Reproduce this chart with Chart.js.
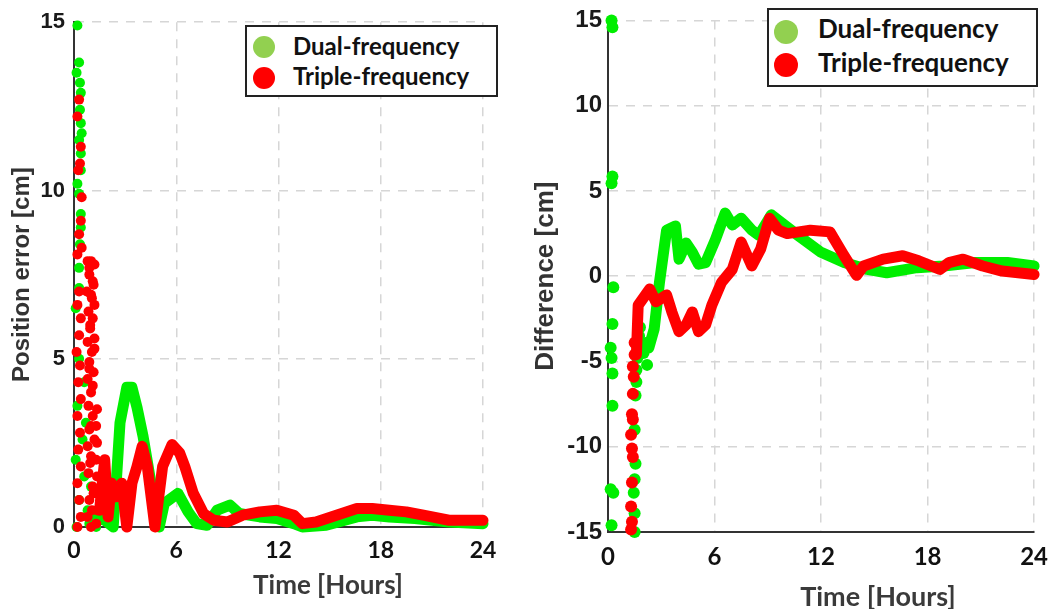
<!DOCTYPE html>
<html>
<head>
<meta charset="utf-8">
<script src="https://cdn.jsdelivr.net/npm/chart.js@4/dist/chart.umd.min.js"></script>
<style>
  body { margin: 0; background: #fff; width: 1059px; height: 609px; overflow: hidden; position: relative; font-family: Lato, sans-serif; }
  canvas { position: absolute; top: 0; }
  #errChart { left: 0; }
  #diffChart { left: 510px; }
  .xtitle { position: absolute; font-weight: bold; color: #3a3a3a; transform: translate(-50%, -50%); white-space: nowrap; }
  .legend { position: absolute; border: 2px solid #222; background: #fff; box-sizing: border-box; }
  .row { position: absolute; white-space: nowrap; font-weight: bold; color: #111; line-height: 1; }
  .dot { position: absolute; border-radius: 50%; }
</style>
</head>
<body>
<canvas id="errChart" width="510" height="609"></canvas>
<canvas id="diffChart" width="549" height="609"></canvas>

<div class="xtitle" style="left:328px;top:584px;font-size:26px">Time [Hours]</div>
<div class="xtitle" style="left:878px;top:595px;font-size:27px">Time [Hours]</div>

<div class="legend" style="left:245px;top:25px;width:253px;height:72px"></div>
<div class="dot" style="left:253px;top:36px;width:22px;height:22px;background:#92d050"></div>
<div class="dot" style="left:253px;top:67px;width:22px;height:22px;background:#ff0000"></div>
<div class="row" style="left:293px;top:34px;font-size:24px">Dual-frequency</div>
<div class="row" style="left:293px;top:64px;font-size:24px">Triple-frequency</div>

<div class="legend" style="left:767px;top:8px;width:271px;height:79px"></div>
<div class="dot" style="left:774px;top:20px;width:24px;height:24px;background:#92d050"></div>
<div class="dot" style="left:774px;top:53px;width:24px;height:24px;background:#ff0000"></div>
<div class="row" style="left:818px;top:15px;font-size:26px">Dual-frequency</div>
<div class="row" style="left:818px;top:49px;font-size:26px">Triple-frequency</div>

<script>
// ---- Left panel: position error [cm] vs time [h] ----
const errDualDotsT = [0.2, 0.3, 0.15, 0.35, 0.4, 0.35, 0.4, 0.45, 0.3, 0.4, 0.4, 0.2, 0.3, 0.4, 0.4, 0.35, 0.3, 0.3,
  0.1, 0.3, 0.6, 0.2, 0.7, 0.5, 0.1, 0.6, 0.3, 0.8, 0.15, 0.9, 1.3, 1.0];
const errDualDotsV = [14.9, 13.8, 13.5, 13.2, 12.9, 12.4, 12.0, 11.7, 11.5, 11.1, 10.6, 10.2, 9.9, 9.3, 8.9, 8.4, 7.7, 7.1,
  6.5, 5.0, 4.3, 3.6, 3.1, 2.6, 2.0, 1.5, 0.8, 0.5, 0.0, 0.1, 0.0, 1.2];
const errDualT = [1.3, 1.8, 2.3, 2.5, 2.7, 3.1, 3.4, 3.7, 4.05, 4.45, 4.9, 5.0, 5.3, 5.7, 6.1, 6.7, 7.2, 7.8, 8.4, 9.15,
  9.7, 10.9, 11.9, 12.9, 13.4, 14.8, 16.6, 17.5, 18.5, 20, 22, 24];
const errDualV = [0.3, 0.2, 0.0, 1.5, 3.1, 4.15, 4.15, 3.55, 2.7, 1.5, 0.2, 0.0, 0.7, 0.85, 1.0, 0.45, 0.1, 0.05, 0.5, 0.65,
  0.4, 0.3, 0.25, 0.1, 0.0, 0.05, 0.3, 0.35, 0.3, 0.25, 0.15, 0.1];

const errTripleDotsT = [0.3, 0.2, 0.4, 0.35, 0.25, 0.45, 0.4, 0.3, 0.45, 0.2,
  0.3, 0.2, 0.4, 0.3, 0.15, 0.35, 0.25, 0.4, 0.2, 0.35, 0.25, 0.4, 0.2, 0.3, 0.4, 0.2,
  0.8, 1.0, 1.2, 0.9, 1.1, 0.75, 1.0, 1.2, 0.85, 1.1, 0.95, 1.2, 0.8, 1.05, 0.9, 1.15, 0.8, 1.0, 0.85, 1.1, 0.9, 0.8, 1.0, 0.85, 1.1, 0.9, 0.8, 1.0,
  0.9, 1.15, 1.05, 0.95, 1.2, 0.9, 1.1, 1.0, 1.2, 0.95, 1.15, 1.05,
  1.35, 1.3, 1.35, 1.3, 1.35, 1.3, 1.35, 1.3];
const errTripleDotsV = [12.7, 12.2, 11.3, 10.8, 10.6, 9.8, 9.1, 8.7, 8.3, 8.1,
  7.0, 6.6, 6.2, 5.7, 5.2, 4.8, 4.3, 3.8, 3.3, 2.8, 2.3, 1.8, 1.3, 0.8, 0.3, 0.0,
  7.9, 7.9, 7.8, 7.5, 7.3, 7.0, 6.9, 6.6, 6.4, 6.2, 5.9, 5.6, 5.5, 5.2, 4.9, 4.6, 4.4, 4.0, 3.6, 3.3, 2.9, 2.4, 2.1, 1.6, 1.2, 0.8, 0.3, 0.0,
  7.7, 7.2, 6.8, 6.0, 5.3, 4.7, 4.2, 3.0, 2.6, 1.9, 1.0, 0.5,
  3.5, 3.0, 2.5, 2.0, 1.5, 1.0, 0.5, 0.1];
const errTripleT = [1.5, 1.8, 2.0, 2.2, 2.5, 2.8, 3.1, 3.4, 3.7, 4.0, 4.3, 4.75, 5.2, 5.75, 6.2, 6.5, 7.0, 7.6, 8.2, 9.0,
  9.9, 10.9, 11.9, 12.9, 13.4, 14.2, 15.4, 16.6, 17.5, 18.5, 19.5, 20.5, 22, 24];
const errTripleV = [0.5, 2.0, 0.3, 1.3, 0.9, 1.3, 0.0, 1.3, 1.8, 2.4, 1.8, 0.0, 1.8, 2.45, 2.2, 1.8, 1.0, 0.4, 0.2, 0.15,
  0.35, 0.45, 0.5, 0.35, 0.1, 0.15, 0.35, 0.55, 0.55, 0.5, 0.45, 0.35, 0.2, 0.2];

// ---- Right panel: difference [cm] vs time [h] ----
const diffDualDotsT = [0.2, 0.25, 0.25, 0.2, 0.3, 0.25, 0.15, 0.2, 0.25, 0.25, 0.15, 0.3, 0.2,
  1.5, 1.5, 1.45, 1.5, 1.55, 1.5, 1.55, 1.6, 1.6, 1.65, 1.7, 1.75, 1.8, 2.0, 2.2, 2.2];
const diffDualDotsV = [15.0, 14.6, 5.85, 5.45, -0.65, -2.8, -4.2, -4.8, -5.7, -7.6, -12.5, -12.7, -14.6,
  -15.0, -13.9, -12.7, -11.9, -11.0, -9.0, -7.0, -6.2, -5.5, -4.8, -4.2, -3.5, -3.0, -4.5, -5.2, -3.9];
const diffDualT = [2.3, 2.6, 2.9, 3.3, 3.8, 4.0, 4.4, 4.75, 5.1, 5.5, 6.05, 6.6, 7.0, 7.5, 8.1, 8.5, 9.2, 9.95, 10.7, 12,
  13.3, 14.6, 15.7, 17.4, 18.9, 20.7, 22.5, 24];
const diffDualV = [-4.2, -3.1, -0.35, 2.7, 2.95, 1.0, 1.95, 1.4, 0.7, 0.8, 2.15, 3.7, 3.0, 3.4, 2.7, 2.4, 3.6, 3.0, 2.4, 1.4,
  0.8, 0.4, 0.2, 0.5, 0.6, 0.8, 0.8, 0.6];

const diffTripleDotsT = [1.3, 1.35, 1.3, 1.35, 1.4, 1.35, 1.3, 1.4, 1.35, 1.4, 1.45, 1.4, 1.5, 1.5];
const diffTripleDotsV = [-14.85, -14.4, -13.5, -12.1, -10.6, -10.1, -9.3, -8.4, -8.1, -6.9, -5.9, -5.3, -4.6, -3.9];
const diffTripleT = [1.6, 1.7, 2.35, 2.7, 3.3, 3.6, 4.0, 4.4, 4.75, 5.1, 5.5, 5.85, 6.4, 7.0, 7.5, 8.1, 8.6, 9.1, 9.6, 10.1,
  11.4, 12.5, 13.3, 14.0, 14.4, 15.5, 16.6, 17.5, 18.7, 19.2, 20.0, 21.1, 22.2, 24];
const diffTripleV = [-4.6, -1.7, -0.75, -1.5, -1.1, -2.1, -3.25, -2.85, -2.1, -3.25, -2.85, -1.7, -0.35, 0.4, 2.0, 0.6, 1.6, 3.4, 2.7, 2.5,
  2.7, 2.6, 1.2, 0.05, 0.6, 1.0, 1.2, 0.9, 0.4, 0.8, 1.0, 0.6, 0.3, 0.1];

const timeTicks = [0, 6, 12, 18, 24];

const GREEN = '#00ee00';
const RED = '#ff0000';

const pts = (ts, vs) => ts.map((t, i) => ({ x: t, y: vs[i] }));

function lineSet(data, color, order) {
  return {
    data, order, showLine: true, borderColor: color, backgroundColor: color,
    borderWidth: 11, borderJoinStyle: 'round', borderCapStyle: 'round',
    pointRadius: 0, tension: 0, clip: false,
  };
}

function dotSet(data, color, order, r) {
  return { data, order, showLine: false, backgroundColor: color, borderWidth: 0, pointRadius: r, clip: false };
}

function makeChart(id, cfg) {
  const gridColor = '#d6d6d6';
  return new Chart(document.getElementById(id), {
    type: 'scatter',
    data: { datasets: cfg.datasets },
    options: {
      responsive: false,
      animation: false,
      layout: { padding: cfg.padding },
      plugins: { legend: { display: false }, tooltip: { enabled: false } },
      scales: {
        x: {
          min: 0, max: 24,
          afterBuildTicks: (s) => { s.ticks = timeTicks.map(v => ({ value: v })); },
          afterFit: (s) => { s.height = cfg.xHeight; },
          ticks: { color: '#111', padding: cfg.xTickPad, font: { family: 'Lato', size: cfg.xTickSize, weight: 'bold' } },
          grid: { color: gridColor, lineWidth: 1.5, drawTicks: false },
          border: { display: true, color: '#333', width: 2, dash: [9, 8] },
        },
        y: {
          min: cfg.yMin, max: 15,
          afterBuildTicks: (s) => { s.ticks = cfg.yTicks.map(v => ({ value: v })); },
          afterFit: (s) => { s.width = cfg.yWidth; },
          ticks: { color: '#1a1a1a', padding: cfg.yTickPad, font: { family: 'Liberation Sans', size: cfg.yTickSize, weight: 'bold' } },
          grid: { color: gridColor, lineWidth: 1.5, drawTicks: false },
          border: { display: true, color: '#333', width: 2, dash: [9, 8] },
          title: {
            display: true, text: cfg.yTitle, color: '#333',
            font: { family: 'Liberation Sans', size: cfg.yTitleSize, weight: 'bold' },
            padding: { top: cfg.yTitlePad, bottom: 0 },
          },
        },
      },
    },
  });
}

makeChart('errChart', {
  padding: { top: 22, right: 27, left: 0, bottom: 0 },
  xHeight: 82, xTickPad: 10, xTickSize: 23,
  yWidth: 74, yTickPad: 9, yTickSize: 22,
  yMin: 0, yTicks: [0, 5, 10, 15],
  yTitle: 'Position error [cm]', yTitleSize: 24, yTitlePad: 8,
  datasets: [
    dotSet(pts(errTripleDotsT, errTripleDotsV), RED, 0, 5),
    lineSet(pts(errTripleT, errTripleV), RED, 1),
    dotSet(pts(errDualDotsT, errDualDotsV), GREEN, 2, 5),
    lineSet(pts(errDualT, errDualV), GREEN, 3),
  ],
});

makeChart('diffChart', {
  padding: { top: 15, right: 20, left: 0, bottom: 0 },
  xHeight: 77, xTickPad: 11, xTickSize: 24,
  yWidth: 98, yTickPad: 6, yTickSize: 24,
  yMin: -15, yTicks: [-15, -10, -5, 0, 5, 10, 15],
  yTitle: 'Difference [cm]', yTitleSize: 26, yTitlePad: 20,
  datasets: [
    dotSet(pts(diffTripleDotsT, diffTripleDotsV), RED, 0, 6),
    lineSet(pts(diffTripleT, diffTripleV), RED, 1),
    dotSet(pts(diffDualDotsT, diffDualDotsV), GREEN, 2, 6),
    lineSet(pts(diffDualT, diffDualV), GREEN, 3),
  ],
});
</script>
</body>
</html>
